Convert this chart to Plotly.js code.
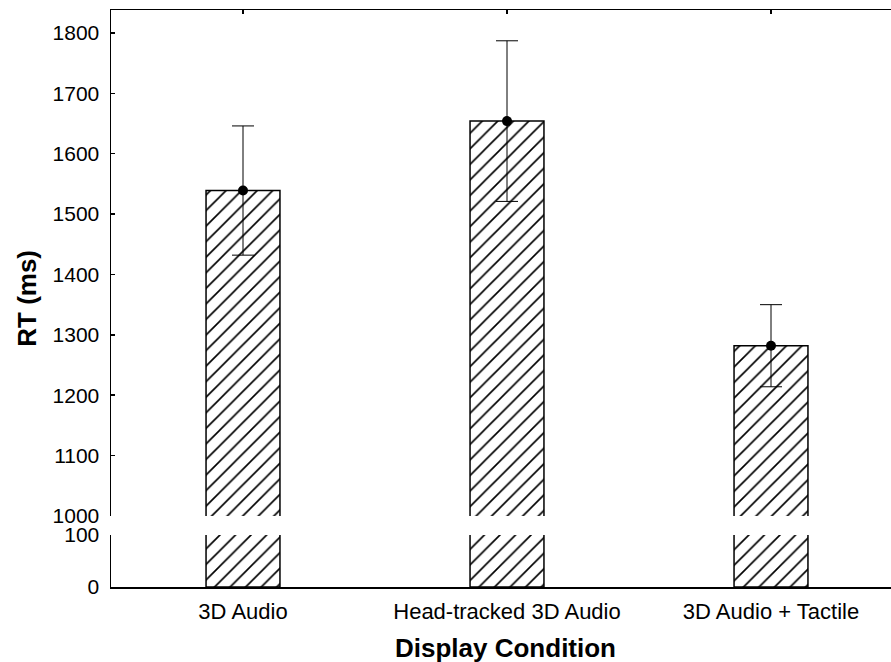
<!DOCTYPE html>
<html>
<head>
<meta charset="utf-8">
<script src="https://cdn.plot.ly/plotly-3.0.1.min.js"></script>
<style>
html,body{margin:0;padding:0;overflow:hidden;background:#fff;width:891px;height:662px;}
#chart{width:904px;height:662px;}
</style>
</head>
<body>
<div id="chart"></div>
<script>
var categories = ["3D Audio", "Head-tracked 3D Audio", "3D Audio + Tactile"];
var meanRT = [1539, 1654, 1282];
var errUp = [107, 133, 68];
var errDown = [107, 133, 68];
var upperTicks = [1000, 1100, 1200, 1300, 1400, 1500, 1600, 1700, 1800];
var lowerTicks = [0, 100];

var FONT = "Liberation Sans, Arial, sans-serif";
var barStyle = {
  color: "#ffffff",
  line: {color: "#000000", width: 1.5},
  pattern: {shape: "/", fgcolor: "#000000", bgcolor: "#ffffff", size: 11, solidity: 0.15}
};

var traces = [
  {type: "bar", x: categories, y: meanRT, xaxis: "x", yaxis: "y", width: 0.28,
   marker: barStyle, hoverinfo: "skip", showlegend: false},
  {type: "bar", x: categories, y: meanRT, xaxis: "x2", yaxis: "y2", width: 0.28,
   marker: barStyle, hoverinfo: "skip", showlegend: false},
  {type: "scatter", mode: "markers", x: categories, y: meanRT, xaxis: "x2", yaxis: "y2",
   marker: {color: "#000000", size: 10},
   error_y: {type: "data", symmetric: false, array: errUp, arrayminus: errDown,
             color: "#000000", thickness: 1, width: 11},
   cliponaxis: false, showlegend: false}
];

var H = 662 - 10 - 75;
var layout = {
  width: 904, height: 662,
  margin: {l: 111, r: 1, t: 10, b: 75},
  paper_bgcolor: "#ffffff", plot_bgcolor: "rgba(0,0,0,0)",
  font: {family: FONT, color: "#000000", size: 20},
  showlegend: false,
  xaxis: {
    type: "category", range: [-0.5, 2.5], anchor: "y",
    showline: true, linecolor: "#000000", linewidth: 1.5,
    ticks: "", showgrid: false, zeroline: false, ticklabelstandoff: 4,
    tickfont: {family: FONT, size: 22, color: "#000000"}
  },
  xaxis2: {
    type: "category", range: [-0.5, 2.5], anchor: "y2", side: "top",
    showline: true, linecolor: "#000000", linewidth: 1.5,
    ticks: "inside", ticklen: 4, tickwidth: 1.5, tickcolor: "#000000",
    showticklabels: false, showgrid: false, zeroline: false
  },
  yaxis: {
    domain: [0, 52 / H], range: [0, 100], anchor: "x",
    tickvals: lowerTicks, ticktext: lowerTicks.map(String),
    showline: true, linecolor: "#000000", linewidth: 1.5,
    ticks: "inside", ticklen: 4, tickwidth: 1.5, tickcolor: "#000000",
    showgrid: false, zeroline: false, ticklabelstandoff: 6,
    tickfont: {family: FONT, size: 21, color: "#000000"}
  },
  yaxis2: {
    domain: [71 / H, 1], range: [1000, 1838], anchor: "x2",
    tickvals: upperTicks, ticktext: upperTicks.map(String),
    showline: true, linecolor: "#000000", linewidth: 1.5,
    ticks: "inside", ticklen: 4, tickwidth: 1.5, tickcolor: "#000000",
    showgrid: false, zeroline: false, ticklabelstandoff: 6,
    tickfont: {family: FONT, size: 21, color: "#000000"}
  },
  annotations: [
    {text: "<b>RT (ms)</b>", textangle: -90, xref: "paper", yref: "paper",
     x: -0.107, y: 0.5, xanchor: "center", yanchor: "middle", showarrow: false,
     font: {family: FONT, size: 26, color: "#000000"}},
    {text: "<b>Display Condition</b>", xref: "paper", yref: "paper",
     x: (505 - 111) / 792, y: -(648 - 587) / H, xanchor: "center", yanchor: "middle", showarrow: false,
     font: {family: FONT, size: 26, color: "#000000"}}
  ]
};

Plotly.newPlot("chart", traces, layout, {displayModeBar: false, staticPlot: true});
</script>
</body>
</html>
